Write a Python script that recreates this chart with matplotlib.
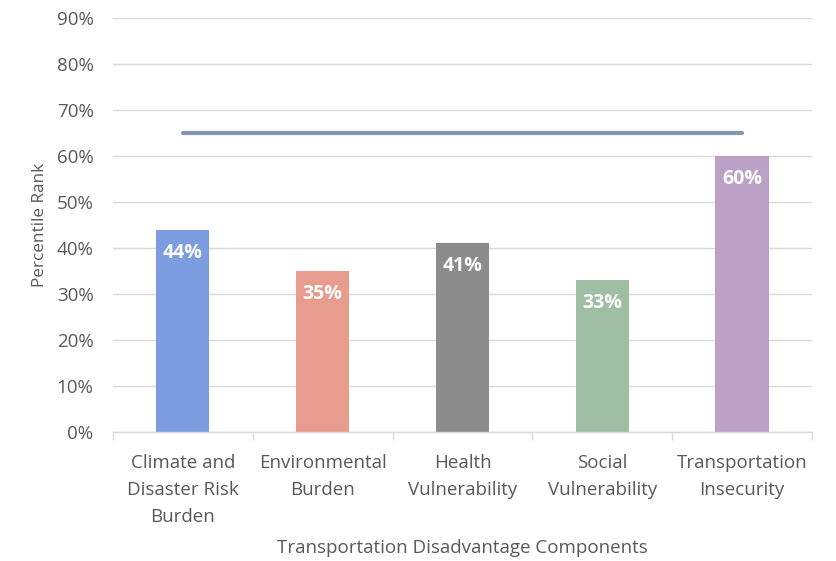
import matplotlib.pyplot as plt
import numpy as np

plt.rcParams["font.family"] = ["Open Sans", "DejaVu Sans"]

components = [
    "Climate and\nDisaster Risk\nBurden",
    "Environmental\nBurden",
    "Health\nVulnerability",
    "Social\nVulnerability",
    "Transportation\nInsecurity",
]
ranks = [44, 35, 41, 33, 60]
threshold = [65, 65, 65, 65, 65]
bar_colors = ["#7C9DE0", "#E79C8E", "#8C8C8C", "#A0BEA4", "#BBA1C6"]
yticks = np.arange(0, 91, 10)

text_col = "#595959"
grid_col = "#D9D9D9"

fig = plt.figure(figsize=(8.37, 5.61), dpi=100)
ax = fig.add_axes([0.135, 0.230, 0.835, 0.738])

x = np.arange(len(components))
bars = ax.bar(x, ranks, width=0.38, color=bar_colors, zorder=2)
ax.plot(x, threshold, color="#8497B0", lw=3, solid_capstyle="round", zorder=3)

for b, v in zip(bars, ranks):
    ax.text(b.get_x() + b.get_width() / 2, v - 5, f"{v}%", ha="center", va="center",
            color="white", fontsize=14, fontweight="bold", zorder=4)

ax.set_xlim(-0.5, len(components) - 0.5)
ax.set_ylim(0, 90)
ax.set_yticks(yticks)
ax.set_yticklabels([f"{t}%" for t in yticks])
ax.yaxis.grid(True, color=grid_col, lw=1, zorder=0)
ax.set_axisbelow(True)

for s in ["top", "right", "left"]:
    ax.spines[s].set_visible(False)
ax.spines["bottom"].set_color(grid_col)
ax.spines["bottom"].set_linewidth(1)

ax.set_xticks(x)
ax.set_xticklabels(components, linespacing=1.62)
ax.set_xticks(np.arange(-0.5, len(components)), minor=True)
ax.tick_params(axis="x", which="major", length=0, pad=16, labelsize=13.5, labelcolor=text_col)
ax.tick_params(axis="x", which="minor", length=6, color=grid_col, width=1)
ax.tick_params(axis="y", length=0, pad=14, labelsize=13.5, labelcolor=text_col)

ax.set_ylabel("Percentile Rank", fontsize=12.3, color=text_col, labelpad=6)
ax.set_xlabel("Transportation Disadvantage Components", fontsize=13.5, color=text_col, labelpad=10)

fig.savefig("out.png", dpi=100)
